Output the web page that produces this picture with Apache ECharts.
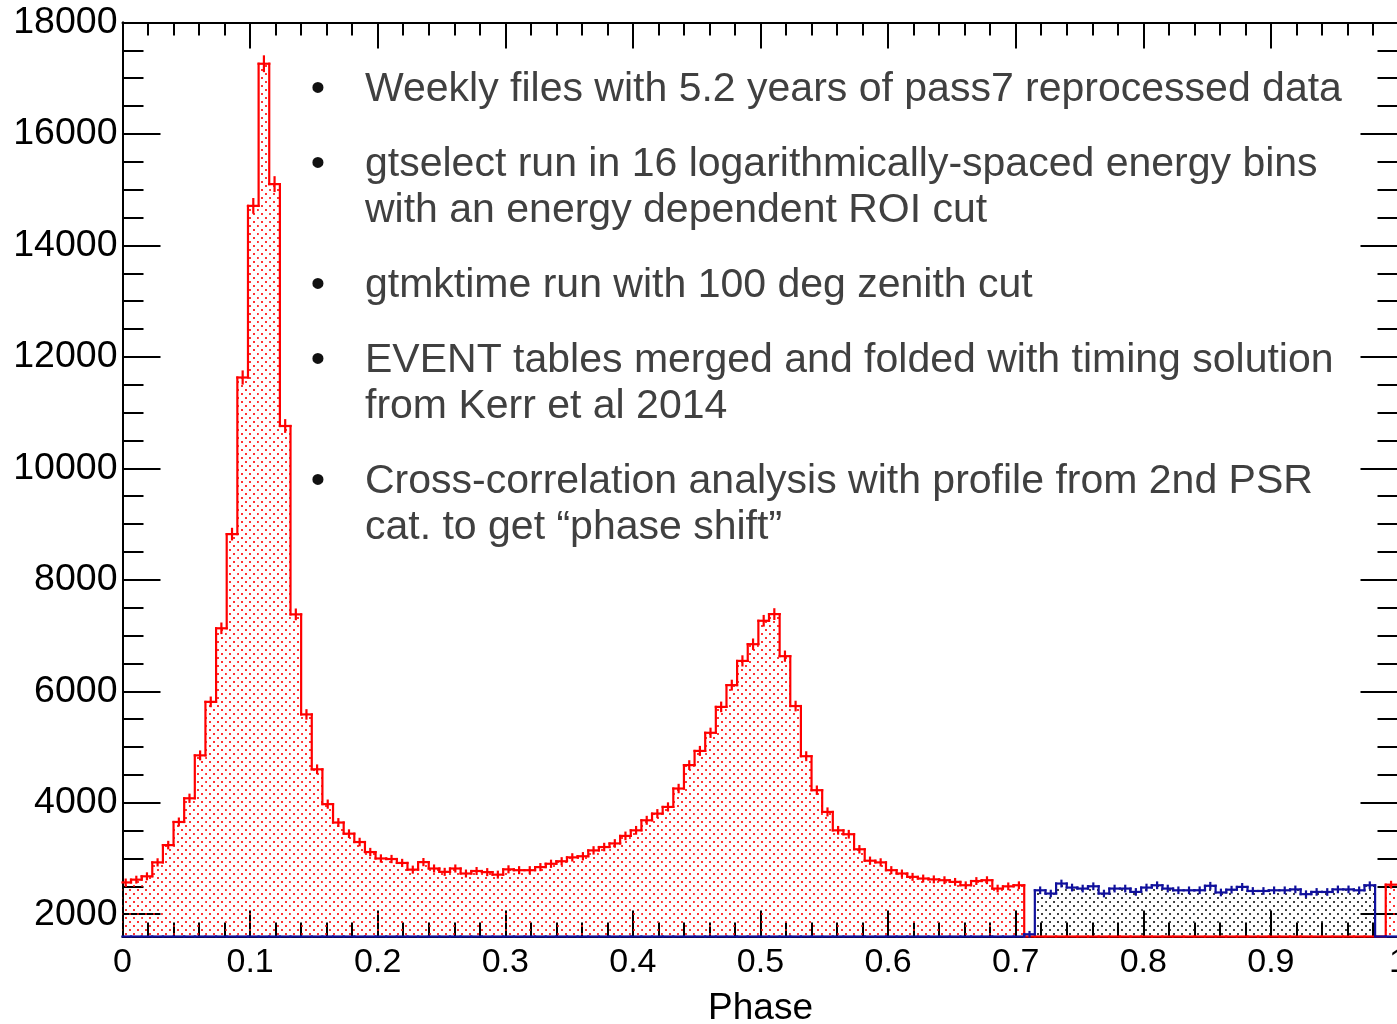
<!DOCTYPE html>
<html>
<head>
<meta charset="utf-8">
<title>Phase histogram</title>
<script src="https://cdn.jsdelivr.net/npm/echarts@6/dist/echarts.min.js"></script>
<style>
  html, body { margin: 0; padding: 0; background: #ffffff; }
  #chart { width: 1397px; height: 1024px; }
</style>
</head>
<body>
<div id="chart"></div>
<script>
// ---- binning ----------------------------------------------------------
const N_BINS = 120;          // phase bins over [0, 1)
const BIN_OFFSET = -0.2;     // edges sit a fifth of a bin left of k/120 (phase shift)

// ---- counts per phase bin ---------------------------------------------
// on-pulse selection (red), bins 0..84
const ON_PULSE_START = 0;
const ON_PULSE_COUNTS = [
  2570, 2620, 2680, 2930, 3240, 3655, 4080, 4850, 5810, 7130,
  8820, 11630, 14710, 17260, 15100, 10760, 7380, 5585, 4600, 3975,
  3645, 3445, 3295, 3115, 3000, 2990, 2920, 2800, 2935, 2820,
  2760, 2820, 2730, 2775, 2755, 2710, 2805, 2790, 2790, 2845,
  2905, 2950, 3020, 3040, 3145, 3205, 3270, 3405, 3505, 3685,
  3805, 3925, 4255, 4675, 4930, 5255, 5720, 6110, 6545, 6845,
  7265, 7385, 6630, 5735, 4835, 4225, 3835, 3505, 3435, 3165,
  2960, 2930, 2790, 2730, 2670, 2640, 2625, 2610, 2580, 2520,
  2595, 2610, 2460, 2500, 2520
];
// on-pulse selection wrapping past phase 1 (red), last bin
const ON_PULSE_WRAP_START = 119;
const ON_PULSE_WRAP_COUNTS = [2530];

// off-pulse selection (blue), bins 85..117
const OFF_PULSE_START = 85;
const OFF_PULSE_COUNTS = [
  1640, 2429, 2371, 2550, 2478, 2460, 2501, 2371, 2460, 2460,
  2400, 2478, 2519, 2460, 2429, 2429, 2430, 2510, 2390, 2440,
  2490, 2417, 2417, 2429, 2429, 2445, 2360, 2400, 2399, 2445,
  2445, 2429, 2519
];

// ---- axes ---------------------------------------------------------------
const X_MIN = 0, X_MAX = 1;
const Y_MIN = 1600, Y_MAX = 18000;
const X_TICK_LABELS = ['0', '0.1', '0.2', '0.3', '0.4', '0.5', '0.6', '0.7', '0.8', '0.9', '1'];
const Y_TICKS = [2000, 4000, 6000, 8000, 10000, 12000, 14000, 16000, 18000];
const Y_MINOR_STEP = 500;

// ---- notes ----------------------------------------------------------------
const NOTES = [
  ['Weekly files with 5.2 years of pass7 reprocessed data'],
  ['gtselect run in 16 logarithmically-spaced energy bins', 'with an energy dependent ROI cut'],
  ['gtmktime run with 100 deg zenith cut'],
  ['EVENT tables merged and folded with timing solution', 'from Kerr et al 2014'],
  ['Cross-correlation analysis with profile from 2nd PSR', 'cat. to get \u201cphase shift\u201d']
];

// ---------------------------------------------------------------------------
const FONT = '"Liberation Sans", Arial, Helvetica, sans-serif';
const RED = '#ff0000';
const BLUE = '#10109c';

function histogram(segments) {
  const h = new Array(N_BINS).fill(0);
  segments.forEach(([start, values]) => values.forEach((v, i) => { h[start + i] = v; }));
  return h;
}
function binEdge(k) { return (k + BIN_OFFSET) / N_BINS; }

function binData(h) {
  return h.map((v, k) => [binEdge(k), binEdge(k + 1), v, k > 0 ? h[k - 1] : 0]);
}

// dotted hatch tile, as used for filled histograms
function dotTile(color) {
  const c = document.createElement('canvas');
  c.width = 8; c.height = 8;
  const g = c.getContext('2d');
  g.fillStyle = color;
  g.fillRect(1, 1, 2, 2);
  g.fillRect(5, 5, 2, 2);
  return c;
}

function histRenderer(color, pattern) {
  return function (params, api) {
    const lo = api.value(0), hi = api.value(1), v = api.value(2), pv = api.value(3);
    const x0 = api.coord([Math.max(lo, X_MIN), Y_MIN])[0];
    const x1 = api.coord([Math.min(hi, X_MAX), Y_MIN])[0];
    const yBase = api.coord([X_MIN, Y_MIN])[1];
    const yTop = api.coord([X_MIN, Math.max(v, Y_MIN)])[1];
    const yPrev = api.coord([X_MIN, Math.max(pv, Y_MIN)])[1];
    const stroke = { stroke: color, lineWidth: 2.2, lineCap: 'square', fill: null };
    const children = [];
    if (v > Y_MIN) {
      children.push({
        type: 'rect',
        shape: { x: x0, y: yTop, width: x1 - x0, height: yBase - yTop },
        style: { fill: { image: pattern, repeat: 'repeat' } }
      });
    }
    children.push({ type: 'line', shape: { x1: x0, y1: yTop, x2: x1, y2: yTop }, style: stroke });
    if (lo >= X_MIN && yPrev !== yTop) {
      children.push({ type: 'line', shape: { x1: x0, y1: yPrev, x2: x0, y2: yTop }, style: stroke });
    }
    if (v > Y_MIN) {
      const c = (lo + hi) / 2, e = Math.sqrt(v);
      const a = api.coord([c, v - e]), b = api.coord([c, v + e]);
      children.push({ type: 'line', shape: { x1: a[0], y1: a[1], x2: b[0], y2: b[1] }, style: stroke });
    }
    return { type: 'group', children };
  };
}

const onPulse = histogram([[ON_PULSE_START, ON_PULSE_COUNTS], [ON_PULSE_WRAP_START, ON_PULSE_WRAP_COUNTS]]);
const offPulse = histogram([[OFF_PULSE_START, OFF_PULSE_COUNTS]]);

const yMinorTicks = [];
for (let v = Y_TICKS[0]; v < Y_MAX; v += Y_MINOR_STEP) {
  if (!Y_TICKS.includes(v)) yMinorTicks.push(v);
}

const black = { color: '#000', width: 2 };

function yAxis(position, ticks, length, labels) {
  return {
    type: 'value', position, min: Y_MIN, max: Y_MAX,
    axisLine: { show: true, lineStyle: black },
    axisTick: { show: true, inside: true, length, lineStyle: black, customValues: ticks },
    axisLabel: labels ? {
      show: true, customValues: ticks, fontSize: 37.5, fontFamily: FONT, color: '#000', margin: 5,
      formatter: v => String(v)
    } : { show: false },
    splitLine: { show: false }, minorTick: { show: false }, minorSplitLine: { show: false }
  };
}

const notes = [];
const NOTE_X = 365, BULLET_X = 318, NOTE_TOP = 90, LINE_H = 46, ITEM_GAP = 29;
let ny = NOTE_TOP;
NOTES.forEach(lines => {
  notes.push({
    type: 'text', x: BULLET_X, y: ny, silent: true,
    style: { text: '\u2022', fill: '#111', fontSize: 41, fontFamily: FONT, align: 'center', verticalAlign: 'middle' }
  });
  lines.forEach((s, i) => {
    notes.push({
      type: 'text', x: NOTE_X, y: ny + i * LINE_H, silent: true,
      style: { text: s, fill: '#404040', fontSize: 41, fontFamily: FONT, align: 'left', verticalAlign: 'middle' }
    });
  });
  ny += lines.length * LINE_H + ITEM_GAP;
});

const chart = echarts.init(document.getElementById('chart'), null, { renderer: 'canvas', width: 1397, height: 1024 });
chart.setOption({
  animation: false,
  backgroundColor: '#ffffff',
  grid: { left: 122.5, top: 22.5, width: 1276, height: 914, containLabel: false, outerBoundsMode: 'none' },
  xAxis: [
    {
      type: 'value', position: 'bottom', min: X_MIN, max: X_MAX, interval: 0.1,
      axisLine: { show: true, onZero: false, lineStyle: black },
      axisTick: { show: true, inside: true, length: 26, lineStyle: black },
      minorTick: { show: true, splitNumber: 5, length: 14, lineStyle: black },
      splitLine: { show: false }, minorSplitLine: { show: false },
      axisLabel: {
        fontSize: 34, fontFamily: FONT, color: '#000', margin: 9,
        formatter: v => X_TICK_LABELS[Math.round(v * 10)]
      },
      name: 'Phase', nameLocation: 'middle', nameGap: 54,
      nameTextStyle: { fontSize: 37, fontFamily: FONT, color: '#000' }
    },
    {
      type: 'value', position: 'top', min: X_MIN, max: X_MAX, interval: 0.1,
      axisLine: { show: true, onZero: false, lineStyle: black },
      axisTick: { show: true, inside: true, length: 26, lineStyle: black },
      minorTick: { show: true, splitNumber: 5, length: 13, lineStyle: black },
      splitLine: { show: false }, minorSplitLine: { show: false },
      axisLabel: { show: false }
    }
  ],
  yAxis: [
    yAxis('left', Y_TICKS, 38, true),
    yAxis('left', yMinorTicks, 21, false),
    yAxis('right', Y_TICKS, 38, false),
    yAxis('right', yMinorTicks, 21, false)
  ],
  graphic: notes,
  series: [
    {
      name: 'on-pulse', type: 'custom', silent: true, xAxisIndex: 0, yAxisIndex: 0,
      renderItem: histRenderer(RED, dotTile('rgba(255,0,0,0.8)')),
      encode: { x: [0, 1], y: 2 },
      data: binData(onPulse), z: 3
    },
    {
      name: 'off-pulse', type: 'custom', silent: true, xAxisIndex: 0, yAxisIndex: 0,
      renderItem: histRenderer(BLUE, dotTile('rgba(0,0,0,0.75)')),
      encode: { x: [0, 1], y: 2 },
      data: binData(offPulse), z: 4
    }
  ]
});
</script>
</body>
</html>
